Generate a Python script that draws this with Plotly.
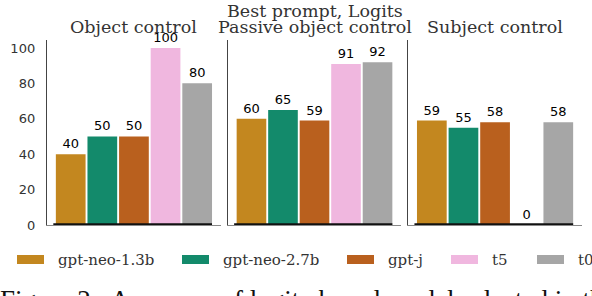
import plotly.graph_objects as go
from plotly.subplots import make_subplots

models = ["gpt-neo-1.3b", "gpt-neo-2.7b", "gpt-j", "t5", "t0"]
colors = ["#C3871F", "#138A6B", "#B9601E", "#F0B7DF", "#A6A6A6"]
panels = ["Object control", "Passive object control", "Subject control"]
values = {
    "Object control": [40, 50, 50, 100, 80],
    "Passive object control": [60, 65, 59, 91, 92],
    "Subject control": [59, 55, 58, 0, 58],
}
title_text = "Best prompt, Logits"
caption_text = "Figure 2:  Accuracy of logits-based model selected in the"
y_ticks = [0, 20, 40, 60, 80, 100]

W, H = 592, 296
L, R, T, B = 47, 10, 40, 71
PW, PH = W - L - R, H - T - B

def px_x(p):
    return (p - L) / PW

def px_y(p):
    return (H - B - p) / PH

legend_left_px = [17, 182, 347, 451, 537]

fig = make_subplots(rows=1, cols=3, subplot_titles=panels, horizontal_spacing=0.013)

serif = "DejaVu Serif"
sans = "DejaVu Sans"

for ci, p in enumerate(panels):
    fig.add_trace(go.Bar(
        x=models, y=values[p], marker_color=colors, marker_line_width=0,
        texttemplate="%{y:.0f}", textposition="outside", cliponaxis=False,
        constraintext="none", textfont=dict(family=sans, size=13, color="black"),
        showlegend=False, hoverinfo="skip"), row=1, col=ci + 1)

doms = [[0, 0.325], [0.338, 0.662], [0.675, 1.0]]
for i in range(3):
    sfx = "" if i == 0 else str(i + 1)
    fig.layout["xaxis" + sfx].update(domain=doms[i], range=[-0.75, 4.75], showticklabels=False,
                                     showgrid=False, zeroline=False, showline=True,
                                     linecolor="#888", linewidth=1, ticks="")
    fig.layout["yaxis" + sfx].update(range=[0, 104.5], showgrid=False, zeroline=False,
                                     showline=True, linecolor="#444", linewidth=1.4,
                                     tickvals=y_ticks, showticklabels=(i == 0), ticks="",
                                     ticklabelstandoff=8,
                                     tickfont=dict(family=sans, size=13, color="#333"))
    xr = "x" + sfx
    yr = "y" + sfx
    fig.add_shape(type="line", xref=xr, yref=yr, x0=-0.55, x1=4.47, y0=0.4, y1=0.4,
                  line=dict(color="#111", width=2), layer="above")

for a in fig.layout.annotations:
    a.update(font=dict(family=serif, size=17.5, color="#333"), yshift=1)

fig.add_annotation(text=title_text, xref="paper", yref="paper", x=0.5, y=1, yshift=17,
                   xanchor="center", yanchor="bottom", showarrow=False,
                   font=dict(family=serif, size=17.5, color="#333"))

# custom legend
for m, c, lp in zip(models, colors, legend_left_px):
    fig.add_shape(type="rect", xref="paper", yref="paper",
                  x0=px_x(lp), x1=px_x(lp + 27), y0=px_y(255), y1=px_y(264),
                  fillcolor=c, line_width=0)
    fig.add_annotation(text=m, xref="paper", yref="paper", x=px_x(lp + 39), y=px_y(260),
                       xanchor="left", yanchor="middle", showarrow=False,
                       font=dict(family=serif, size=15, color="#333"))

fig.add_annotation(text=caption_text, xref="paper", yref="paper", x=px_x(-2), y=px_y(283),
                   xanchor="left", yanchor="top", showarrow=False,
                   font=dict(family="Liberation Serif", size=27, color="#111"))

fig.update_layout(width=W, height=H, margin=dict(l=L, r=R, t=T, b=B),
                  plot_bgcolor="white", paper_bgcolor="white", bargap=0.06)

fig.write_html("out.html", config={"displayModeBar": False},
               post_script="document.body.style.margin='0px';")
